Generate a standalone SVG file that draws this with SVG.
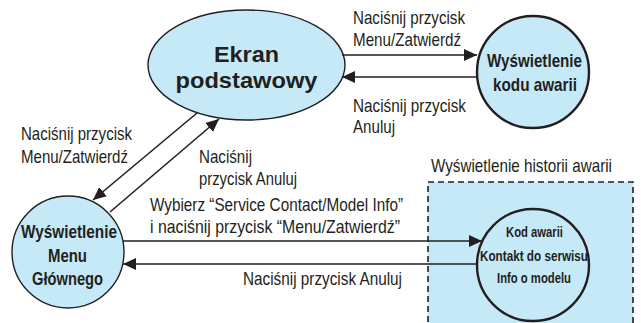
<svg xmlns="http://www.w3.org/2000/svg" width="641" height="323" viewBox="0 0 641 323">
<style>
.lbl{font-family:"Liberation Sans Narrow","Liberation Sans",Arial,sans-serif;font-size:18.5px;fill:#231f20;}
.nd{font-family:"Liberation Sans Narrow","Liberation Sans",Arial,sans-serif;font-size:18.5px;font-weight:bold;fill:#231f20;text-anchor:middle;}
.nds{font-family:"Liberation Sans Narrow","Liberation Sans",Arial,sans-serif;font-size:15.5px;font-weight:bold;fill:#231f20;text-anchor:middle;}
.big{font-family:"Liberation Sans",Arial,sans-serif;font-size:21.5px;font-weight:bold;fill:#231f20;text-anchor:middle;}
.fill{fill:#c6e9f8;}
.conn{stroke:#231f20;stroke-width:1.6;fill:none;}
</style>
<defs>
<marker id="ah" markerUnits="userSpaceOnUse" markerWidth="14" markerHeight="12" refX="13" refY="6" orient="auto">
<path d="M0,0 L13,6 L0,12 Z" fill="#231f20"/>
</marker>
</defs>
<rect width="641" height="323" fill="#ffffff"/>

<g id="historia">
<rect x="428" y="182" width="205" height="150" class="fill" stroke="#231f20" stroke-width="1.6" stroke-dasharray="6,4"/>
<text class="lbl" x="431" y="172" textLength="181" lengthAdjust="spacingAndGlyphs">Wyświetlenie historii awarii</text>
</g>

<g id="ekran">
<ellipse cx="246.5" cy="65" rx="98.5" ry="55" class="fill" stroke="#231f20" stroke-width="1.4"/>
<text class="big" x="246.5" y="62" textLength="65" lengthAdjust="spacingAndGlyphs">Ekran</text>
<text class="big" x="246.5" y="88" textLength="142" lengthAdjust="spacingAndGlyphs">podstawowy</text>
</g>

<g id="kod">
<circle cx="533" cy="72" r="56" class="fill" stroke="#231f20" stroke-width="2.4"/>
<text class="nd" x="534.5" y="67" textLength="95" lengthAdjust="spacingAndGlyphs">Wyświetlenie</text>
<text class="nd" x="535" y="91" textLength="84" lengthAdjust="spacingAndGlyphs">kodu awarii</text>
</g>

<g id="menu">
<circle cx="68" cy="252" r="56" class="fill" stroke="#231f20" stroke-width="1.4"/>
<text class="nd" x="69" y="238" textLength="96" lengthAdjust="spacingAndGlyphs">Wyświetlenie</text>
<text class="nd" x="67.5" y="262" textLength="39" lengthAdjust="spacingAndGlyphs">Menu</text>
<text class="nd" x="67.5" y="285" textLength="71" lengthAdjust="spacingAndGlyphs">Głównego</text>
</g>

<g id="info">
<circle cx="533" cy="265" r="56" fill="none" stroke="#231f20" stroke-width="2.4"/>
<text class="nds" x="534.5" y="237" textLength="57" lengthAdjust="spacingAndGlyphs">Kod awarii</text>
<text class="nds" x="534" y="261" textLength="108" lengthAdjust="spacingAndGlyphs">Kontakt do serwisu</text>
<text class="nds" x="534" y="283" textLength="74" lengthAdjust="spacingAndGlyphs">Info o modelu</text>
</g>

<g id="connectors">
<line class="conn" x1="342" y1="55" x2="477" y2="55" marker-end="url(#ah)"/>
<line class="conn" x1="477" y1="77" x2="342" y2="77" marker-end="url(#ah)"/>
<line class="conn" x1="197" y1="113" x2="93" y2="200" marker-end="url(#ah)"/>
<line class="conn" x1="110" y1="212" x2="219" y2="119" marker-end="url(#ah)"/>
<line class="conn" x1="123" y1="241" x2="482" y2="241" marker-end="url(#ah)"/>
<line class="conn" x1="478" y1="264" x2="123" y2="264" marker-end="url(#ah)"/>
</g>

<g id="labels">
<text class="lbl" x="353" y="24" textLength="112" lengthAdjust="spacingAndGlyphs">Naciśnij przycisk</text>
<text class="lbl" x="353" y="46" textLength="108" lengthAdjust="spacingAndGlyphs">Menu/Zatwierdź</text>
<text class="lbl" x="353" y="112" textLength="113" lengthAdjust="spacingAndGlyphs">Naciśnij przycisk</text>
<text class="lbl" x="353" y="133" textLength="42" lengthAdjust="spacingAndGlyphs">Anuluj</text>
<text class="lbl" x="21" y="140" textLength="111" lengthAdjust="spacingAndGlyphs">Naciśnij przycisk</text>
<text class="lbl" x="21" y="163" textLength="107" lengthAdjust="spacingAndGlyphs">Menu/Zatwierdź</text>
<text class="lbl" x="199" y="163" textLength="53" lengthAdjust="spacingAndGlyphs">Naciśnij</text>
<text class="lbl" x="199" y="185" textLength="98" lengthAdjust="spacingAndGlyphs">przycisk Anuluj</text>
<text class="lbl" x="150" y="211" textLength="253" lengthAdjust="spacingAndGlyphs">Wybierz “Service Contact/Model Info”</text>
<text class="lbl" x="150" y="233" textLength="250" lengthAdjust="spacingAndGlyphs">i naciśnij przycisk “Menu/Zatwierdź”</text>
<text class="lbl" x="243" y="285" textLength="159" lengthAdjust="spacingAndGlyphs">Naciśnij przycisk Anuluj</text>
</g>
</svg>
